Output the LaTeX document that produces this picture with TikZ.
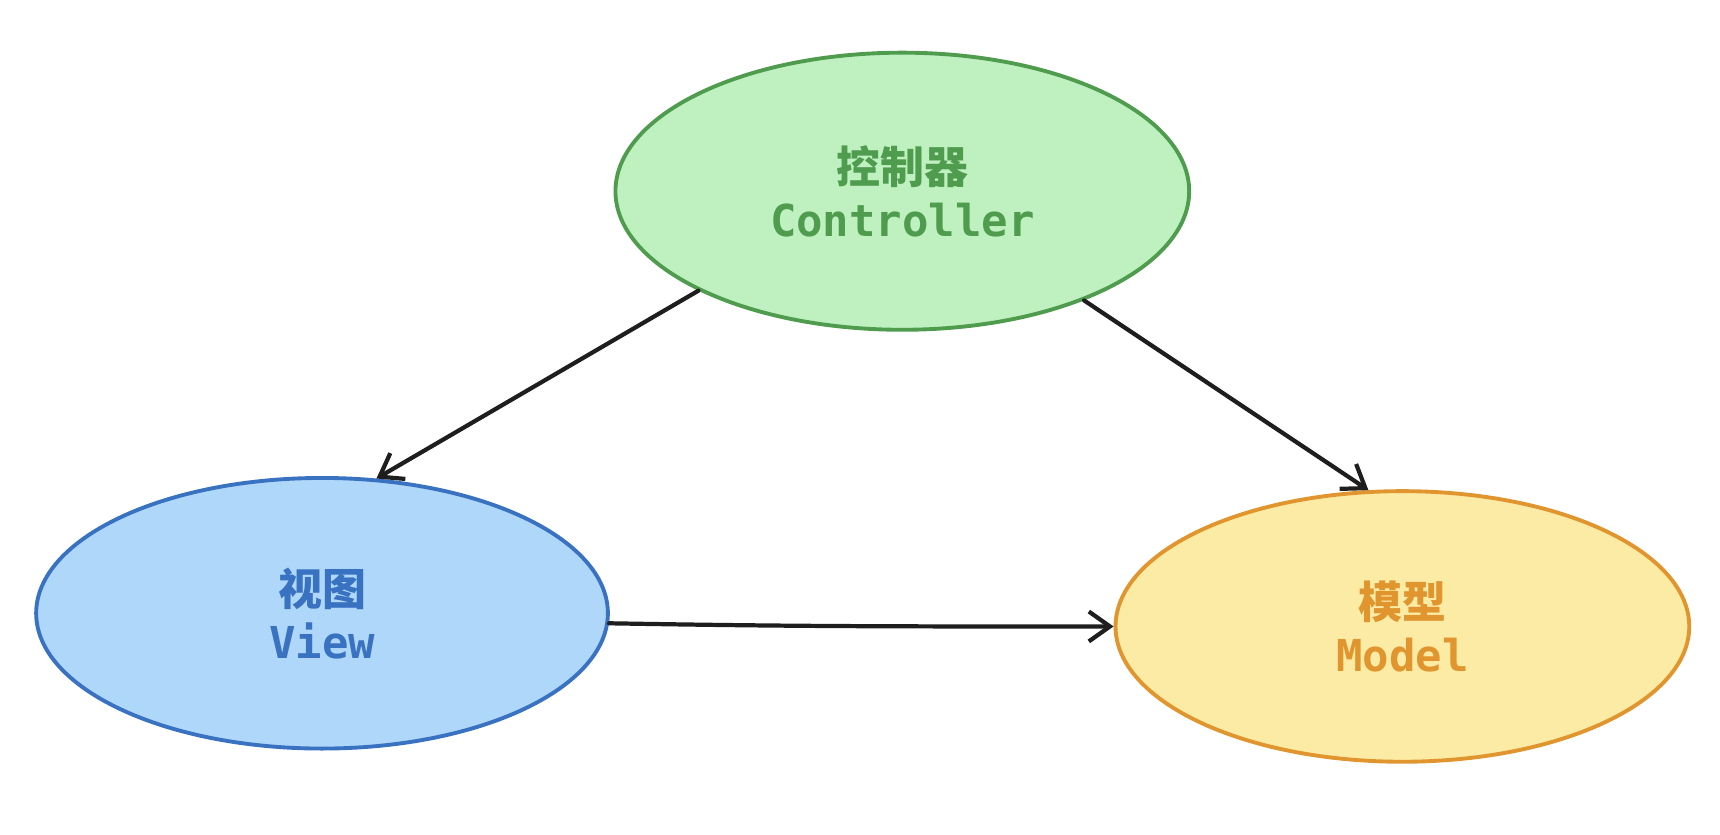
\documentclass[tikz,border=0pt]{standalone}
\usepackage{fontspec}
\setmonofont{DejaVu Sans Mono}
\newfontfamily\cjk{Noto Sans CJK SC}
\usepackage{tikz}
\usetikzlibrary{shapes.geometric,arrows.meta}

\definecolor{ctrlfill}{HTML}{BFF0BF}
\definecolor{ctrldraw}{HTML}{4F9C4F}
\definecolor{viewfill}{HTML}{AFD7FA}
\definecolor{viewdraw}{HTML}{3A72C2}
\definecolor{modelfill}{HTML}{FBEBA4}
\definecolor{modeldraw}{HTML}{E0952E}
\definecolor{ink}{HTML}{1E1E1E}

\begin{document}
\begin{tikzpicture}[x=0.02198cm,y=0.02198cm,
    part/.style={ellipse, line width=2.2pt, align=center,
                 font=\fontsize{25}{30}\selectfont, inner sep=0pt},
    link/.style={draw=ink, line width=2.4pt, line cap=round,
                 -{Straight Barb[length=12pt,width=17pt,line width=2.4pt]}}]

    % Fix the frame of the picture
    \useasboundingbox (0,0) rectangle (1565,759);

    % Draw the three parts
    \node[part, draw=ctrldraw, fill=ctrlfill, text=ctrldraw,
          minimum width=11.47cm, minimum height=5.54cm] (ctrl) at (821,585)
          {{\cjk\bfseries 控制器}\\\texttt{\bfseries Controller}};
    \node[part, draw=viewdraw, fill=viewfill, text=viewdraw,
          minimum width=11.43cm, minimum height=5.41cm] (view) at (293,201)
          {{\cjk\bfseries 视图}\\\texttt{\bfseries View}};
    \node[part, draw=modeldraw, fill=modelfill, text=modeldraw,
          minimum width=11.47cm, minimum height=5.41cm] (model) at (1276,189)
          {{\cjk\bfseries 模型}\\\texttt{\bfseries Model}};

    % Draw the links
    \draw[link] (ctrl.206) -- (view.68);
    \draw[link] (ctrl.329) -- (model.104);
    \draw[link] (view.358) to[out=-1,in=180] (model.180);

\end{tikzpicture}
\end{document}
